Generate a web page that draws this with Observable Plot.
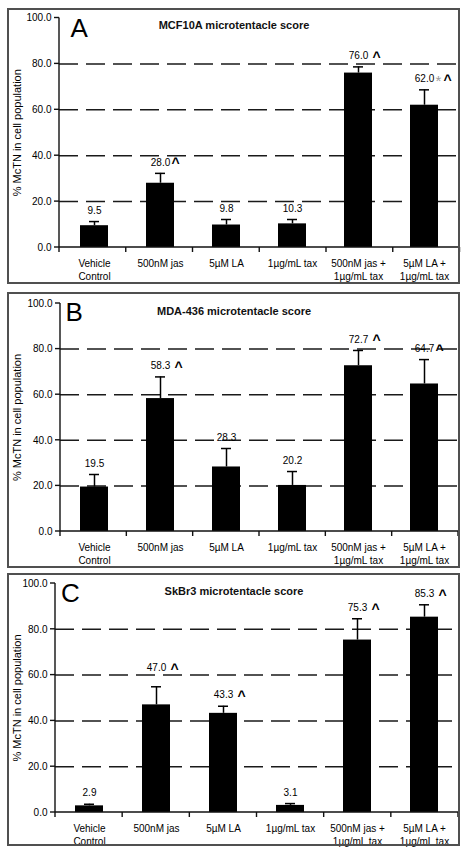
<!DOCTYPE html>
<html><head><meta charset="utf-8">
<script src="https://cdn.jsdelivr.net/npm/d3@7"></script>
<script src="https://cdn.jsdelivr.net/npm/@observablehq/plot@0.6"></script>
<style>
body{margin:0;background:#fff;}
#root{position:relative;width:468px;height:859px;overflow:hidden;background:#fff;font-family:"Liberation Sans",Arial,sans-serif;}
.panel-border{position:absolute;border:2px solid #505050;box-sizing:border-box;pointer-events:none;}
.panel-svg{position:absolute;left:0;}
</style></head><body><div id="root"></div>
<script>
// ---- data ----
const categories = ["Vehicle\nControl", "500nM jas", "5µM LA", "1µg/mL tax", "500nM jas +\n1µg/mL tax", "5µM LA +\n1µg/mL tax"];
const letters = ["A", "B", "C"];
const titles = ["MCF10A microtentacle score", "MDA-436 microtentacle score", "SkBr3 microtentacle score"];
const yLabel = "% McTN in cell population";
const yTicks = [0, 20, 40, 60, 80, 100];
const gridValues = [20, 40, 60, 80];

const valuesA = [9.5, 28.0, 9.8, 10.3, 76.0, 62.0];
const errorsA = [11.3, 32.3, 12.2, 12.2, 78.7, 68.7];
const markersA = ["", "^", "", "", " ^", "*^"];

const valuesB = [19.5, 58.3, 28.3, 20.2, 72.7, 64.7];
const errorsB = [25.0, 67.8, 36.4, 26.3, 79.4, 75.4];
const markersB = ["", " ^", "", "", " ^", "^"];

const valuesC = [2.9, 47.0, 43.3, 3.1, 75.3, 85.3];
const errorsC = [3.6, 54.9, 46.4, 3.9, 84.6, 90.7];
const markersC = ["", " ^", " ^", "", " ^", " ^"];

// ---- layout (page coordinates) ----
const layout = [
  {top: 9,   height: 274, ml: 59, mr: 8.5, mt: 8.5, mb: 36, letterDx: 11, letterDy: 0.5, lift: {}},
  {top: 293, height: 274, ml: 60, mr: 10,  mt: 10,  mb: 36, letterDx: 5,  letterDy: -1, lift: {}},
  {top: 574, height: 271, ml: 55, mr: 10,  mt: 9,   mb: 33, letterDx: 5.5, letterDy: 0, lift: {1: 8}}
];
const W = 468;
const font = '"Liberation Sans", Arial, sans-serif';

function axesMark() {
  return (index, scales, values, dims) => {
    const {width, height, marginLeft, marginRight, marginTop, marginBottom} = dims;
    const x0 = marginLeft, x1 = width - marginRight, yb = height - marginBottom, yt = marginTop;
    const g = d3.create("svg:g").attr("stroke", "#111").attr("stroke-width", 1.4).attr("fill", "none");
    g.append("line").attr("x1", x0).attr("x2", x0).attr("y1", yt).attr("y2", yb);
    g.append("line").attr("x1", x0).attr("x2", x1).attr("y1", yb).attr("y2", yb);
    for (const t of yTicks) {
      const yy = scales.y(t);
      g.append("line").attr("x1", x0 - 5).attr("x2", x0).attr("y1", yy).attr("y2", yy);
    }
    const n = categories.length, step = (x1 - x0) / n;
    for (let i = 0; i <= n; i++) {
      const xx = x0 + i * step;
      g.append("line").attr("x1", xx).attr("x2", xx).attr("y1", yb).attr("y2", yb + 5);
    }
    return g.node();
  };
}

function panel(values, errors, markers, k) {
  const L = layout[k];
  const data = categories.map((c, i) => ({cat: c, value: values[i], err: errors[i], marker: markers[i], idx: i}));
  const normal = data.filter(d => !(d.idx in L.lift));
  const lifted = data.filter(d => d.idx in L.lift);
  const labelDy = -11, markDy = -9.5;
  const markerMarks = (rows, extra) => {
    const sel = (m) => rows.filter(d => d.marker === m);
    return [
      Plot.text(sel("^"), {x: "cat", y: "err", text: () => "^", dx: 11, dy: markDy - extra, textAnchor: "start", fontSize: 14, fontWeight: "bold", fill: "#000"}),
      Plot.text(sel(" ^"), {x: "cat", y: "err", text: () => "^", dx: 14, dy: markDy - extra, textAnchor: "start", fontSize: 14, fontWeight: "bold", fill: "#000"}),
      Plot.text(sel("*^"), {x: "cat", y: "err", text: () => "*", dx: 11, dy: markDy + 1 - extra, textAnchor: "start", fontSize: 15, fill: "#9a9a9a"}),
      Plot.text(sel("*^"), {x: "cat", y: "err", text: () => "^", dx: 19, dy: markDy - extra, textAnchor: "start", fontSize: 14, fontWeight: "bold", fill: "#000"}),
      Plot.text(rows, {x: "cat", y: "err", text: d => d.value.toFixed(1), dy: labelDy - extra, fontSize: 10, fill: "#000"})
    ];
  };
  const liftMarks = lifted.flatMap(d => markerMarks([d], L.lift[d.idx]));
  return Plot.plot({
    width: W, height: L.height,
    marginLeft: L.ml, marginRight: L.mr, marginTop: L.mt, marginBottom: L.mb,
    style: {fontFamily: font, fontSize: "10px", color: "#000", background: "transparent", overflow: "visible"},
    x: {type: "band", domain: categories, paddingInner: 0.575, paddingOuter: 0.2875},
    y: {domain: [0, 100]},
    marks: [
      Plot.ruleY(gridValues, {stroke: "#1a1a1a", strokeWidth: 1.5, strokeDasharray: "19,8"}),
      Plot.barY(data, {x: "cat", y: "value", fill: "#000"}),
      Plot.ruleX(data, {x: "cat", y1: "value", y2: "err", stroke: "#000", strokeWidth: 1.5}),
      Plot.tickY(data, {x: "cat", y: "err", stroke: "#000", strokeWidth: 1.5, insetLeft: 9, insetRight: 9}),
      axesMark(),
      Plot.axisY({ticks: yTicks, tickSize: 0, tickPadding: 8, tickFormat: d => d.toFixed(1), fontSize: 10, label: null, fill: "#000"}),
      Plot.axisX({tickSize: 0, tickPadding: 10, fontSize: 10, lineHeight: 1.3, label: null, fill: "#000"}),
      Plot.text([yLabel], {text: d => d, frameAnchor: "left", textAnchor: "middle", lineAnchor: "middle", rotate: -90, dx: 17 - L.ml, fontSize: 11, fill: "#000"}),
      Plot.text([titles[k]], {text: d => d, frameAnchor: "top-left", textAnchor: "middle", lineAnchor: "middle", dx: 233.5 - L.ml, dy: 7.5, fontSize: 11, fontWeight: "bold", fill: "#111"}),
      Plot.text([letters[k]], {text: d => d, frameAnchor: "top-left", textAnchor: "start", lineAnchor: "top", dx: L.letterDx, dy: L.letterDy, fontSize: 26, fill: "#000"}),
      ...markerMarks(normal, 0),
      ...liftMarks
    ]
  });
}

const root = document.getElementById("root");
const sets = [[valuesA, errorsA, markersA], [valuesB, errorsB, markersB], [valuesC, errorsC, markersC]];
sets.forEach(([v, e, m], k) => {
  const L = layout[k];
  const svg = panel(v, e, m, k);
  svg.classList.add("panel-svg");
  svg.style.top = L.top + "px";
  root.appendChild(svg);
  const b = document.createElement("div");
  b.className = "panel-border";
  b.style.left = "7px"; b.style.top = (L.top - 1) + "px";
  b.style.width = "453px"; b.style.height = (L.height + 2) + "px";
  root.appendChild(b);
});
</script></body></html>
